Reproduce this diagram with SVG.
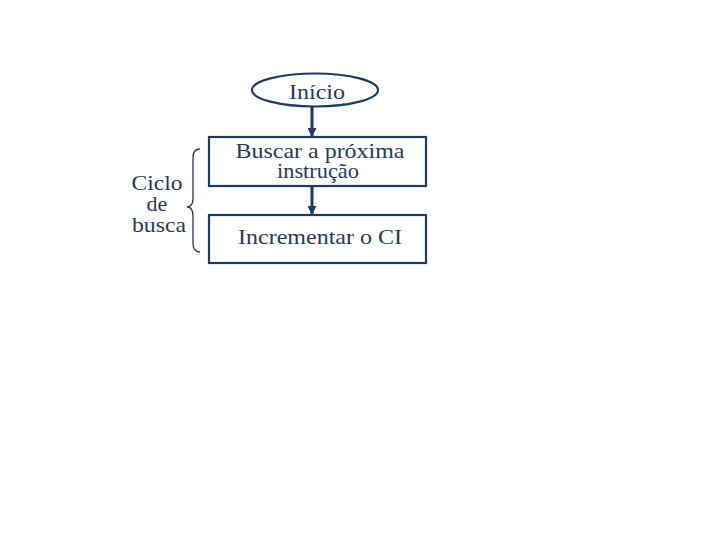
<svg xmlns="http://www.w3.org/2000/svg" width="720" height="540" viewBox="0 0 720 540">
<defs>
<style>
text{font-family:"Liberation Serif","Times New Roman",serif;font-size:22px;fill:#263a5a;}
.shape{fill:#ffffff;stroke:#1f3a64;stroke-width:2.2;}
.conn{stroke:#1f3a64;stroke-width:3;fill:none;}
</style>
<marker id="ah" viewBox="0 0 10 10" refX="9" refY="5" markerWidth="3" markerHeight="3" orient="auto"><path d="M0,0 L10,5 L0,10 z" fill="#1f3a64"/></marker>
</defs>
<rect width="720" height="540" fill="#ffffff"/>
<g id="connectors">
<line class="conn" x1="312" y1="107" x2="312" y2="136" marker-end="url(#ah)"/>
<line class="conn" x1="312" y1="187" x2="312" y2="214" marker-end="url(#ah)"/>
</g>
<g id="inicio">
<ellipse class="shape" cx="315" cy="90" rx="63" ry="16.5"/>
<text x="317" y="99" text-anchor="middle" textLength="56" lengthAdjust="spacingAndGlyphs">Início</text>
</g>
<g id="buscar">
<rect class="shape" x="209" y="137" width="217" height="49"/>
<text x="320" y="158" text-anchor="middle" textLength="169" lengthAdjust="spacingAndGlyphs">Buscar a próxima</text>
<text x="318" y="178" text-anchor="middle" textLength="82" lengthAdjust="spacingAndGlyphs">instrução</text>
</g>
<g id="incrementar">
<rect class="shape" x="209" y="215" width="217" height="48"/>
<text x="320" y="244" text-anchor="middle" textLength="164" lengthAdjust="spacingAndGlyphs">Incrementar o CI</text>
</g>
<g id="ciclo">
<text x="157" y="190" text-anchor="middle" textLength="51" lengthAdjust="spacingAndGlyphs">Ciclo</text>
<text x="157" y="211" text-anchor="middle">de</text>
<text x="159" y="232" text-anchor="middle" textLength="54" lengthAdjust="spacingAndGlyphs">busca</text>
<path d="M200,149 Q193,149 193,158 L193,198 Q193,207 187,207 Q193,207 193,216 L193,243 Q193,252 200,252" fill="none" stroke="#263a5a" stroke-width="1.3"/>
</g>
</svg>
